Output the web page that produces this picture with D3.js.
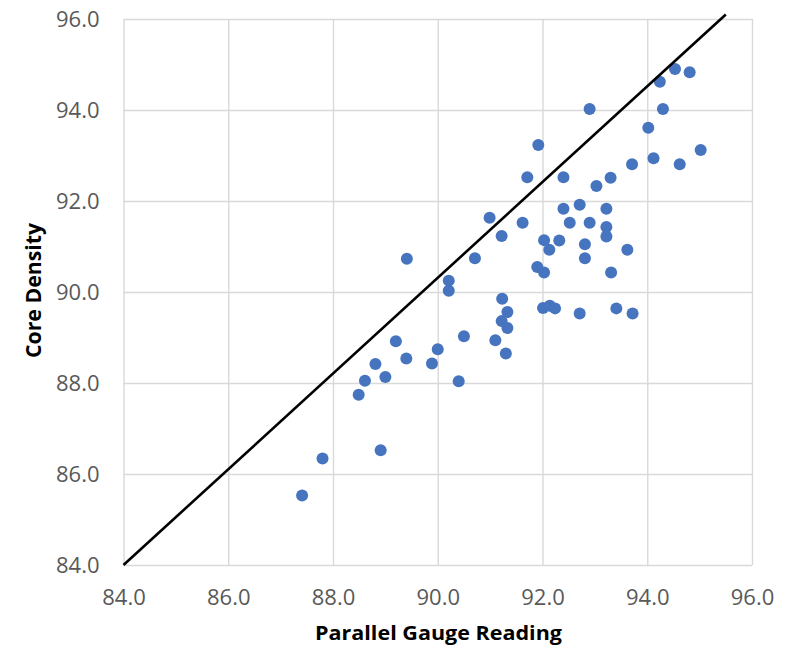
<!DOCTYPE html>
<html>
<head>
<meta charset="utf-8">
<script src="https://cdn.jsdelivr.net/npm/d3@7"></script>
<style>
  html, body { margin: 0; padding: 0; background: #ffffff; }
  svg { display: block; }
</style>
</head>
<body>
<svg id="chart" width="792" height="648"></svg>
<script>
// ---- Data ----
const gaugeReading = [
  87.41, 87.80, 88.91, 88.49, 88.61, 88.81, 89.00, 89.20, 89.40, 89.41,
  89.89, 90.00, 90.21, 90.21, 90.40, 90.50, 90.71, 90.99, 91.10, 91.22,
  91.23, 91.33, 91.22, 91.33, 91.30, 91.62, 91.71, 91.92, 91.90, 92.03,
  92.03, 92.01, 92.13, 92.14, 92.24, 92.32, 92.40, 92.40, 92.52, 92.71,
  92.71, 92.81, 92.81, 92.90, 92.90, 93.03, 93.22, 93.22, 93.22, 93.30,
  93.31, 93.41, 93.62, 93.72, 93.71, 94.02, 94.12, 94.24, 94.30, 94.53,
  94.62, 94.81, 95.02
];
const coreDensity = [
  85.53, 86.34, 86.52, 87.74, 88.05, 88.42, 88.13, 88.92, 88.54, 90.73,
  88.43, 88.74, 90.25, 90.03, 88.04, 89.03, 90.74, 91.63, 88.94, 91.23,
  89.85, 89.56, 89.36, 89.21, 88.65, 91.52, 92.52, 93.23, 90.55, 91.14,
  90.43, 89.65, 90.93, 89.70, 89.64, 91.13, 92.52, 91.83, 91.52, 91.92,
  89.53, 91.05, 90.74, 94.02, 91.52, 92.33, 91.83, 91.43, 91.22, 92.51,
  90.43, 89.64, 90.93, 89.53, 92.81, 93.61, 92.94, 94.62, 94.02, 94.90,
  92.81, 94.83, 93.12
];
const refLineX = [84.0, 95.5];
const refLineY = [84.0, 96.1];
const xTicks = [84, 86, 88, 90, 92, 94, 96];
const yTicks = [84, 86, 88, 90, 92, 94, 96];
const xTitle = "Parallel Gauge Reading";
const yTitle = "Core Density";

// ---- Layout ----
const W = 792, H = 648;
const margin = { left: 123.5, right: 40, top: 19, bottom: 83 };
const pw = W - margin.left - margin.right;
const ph = H - margin.top - margin.bottom;

const svg = d3.select("#chart");
svg.append("rect").attr("width", W).attr("height", H).attr("fill", "#ffffff");

const g = svg.append("g").attr("transform", `translate(${margin.left},${margin.top})`);

const x = d3.scaleLinear().domain([84, 96]).range([0, pw]);
const y = d3.scaleLinear().domain([84, 96]).range([ph, 0]);

const tickFont = "'Open Sans', 'Liberation Sans', sans-serif";

// Grid + y axis
const yAxis = g.append("g")
  .call(d3.axisLeft(y).tickValues(yTicks).tickFormat(d3.format(".1f"))
    .tickSize(-pw).tickPadding(24));
yAxis.select(".domain").remove();
yAxis.selectAll("line").attr("stroke", "#d9d9d9").attr("stroke-width", 1.4);
yAxis.selectAll("text").attr("fill", "#595959")
  .style("font-family", tickFont).style("font-size", "22px");

// Grid + x axis
const xAxis = g.append("g").attr("transform", `translate(0,${ph})`)
  .call(d3.axisBottom(x).tickValues(xTicks).tickFormat(d3.format(".1f"))
    .tickSize(-ph).tickPadding(24));
xAxis.select(".domain").remove();
xAxis.selectAll("line").attr("stroke", "#d9d9d9").attr("stroke-width", 1.4);
xAxis.selectAll("text").attr("fill", "#595959")
  .style("font-family", tickFont).style("font-size", "22px");

// Points
const pts = gaugeReading.map((v, i) => [v, coreDensity[i]]);
g.append("g").selectAll("circle").data(pts).join("circle")
  .attr("cx", d => x(d[0]))
  .attr("cy", d => y(d[1]))
  .attr("r", 6)
  .attr("fill", "#4674bf");

// Reference line
const lineData = refLineX.map((v, i) => [v, refLineY[i]]);
g.append("path")
  .datum(lineData)
  .attr("fill", "none")
  .attr("stroke", "#000000")
  .attr("stroke-width", 2.6)
  .attr("d", d3.line().x(d => x(d[0])).y(d => y(d[1])));

// Axis titles
const titleFont = "'Open Sans', 'Liberation Sans', sans-serif";
svg.append("text")
  .attr("x", 438.5).attr("y", 640)
  .attr("text-anchor", "middle")
  .attr("fill", "#000000")
  .style("font-family", titleFont).style("font-weight", "bold").style("font-size", "20px")
  .attr("textLength", 247).attr("lengthAdjust", "spacingAndGlyphs")
  .text(xTitle);

svg.append("text")
  .attr("transform", "translate(41,290.5) rotate(-90)")
  .attr("text-anchor", "middle")
  .attr("fill", "#000000")
  .style("font-family", titleFont).style("font-weight", "bold").style("font-size", "21px")
  .attr("textLength", 135).attr("lengthAdjust", "spacingAndGlyphs")
  .text(yTitle);
</script>
</body>
</html>
